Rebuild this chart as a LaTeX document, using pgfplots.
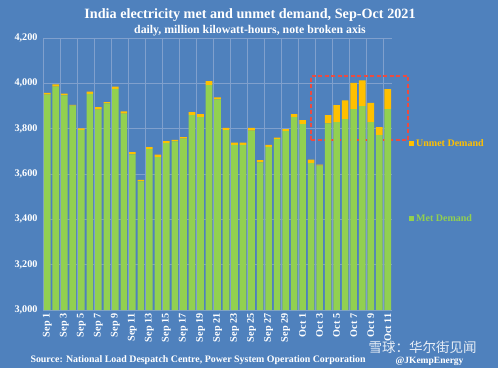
\documentclass[border=0pt]{standalone}
\usepackage{fontspec}
\setmainfont{Liberation Serif}
\newfontfamily\cjk{Noto Sans CJK SC}
\usepackage{pgfplots}
\usepackage{pgfplotstable}
\pgfplotsset{compat=1.18}
\definecolor{bg}{RGB}{79,129,189}
\definecolor{met}{RGB}{146,208,80}
\definecolor{unmet}{RGB}{255,192,0}
\definecolor{gridc}{RGB}{128,160,205}
\definecolor{boxred}{RGB}{235,75,65}

\pgfplotstableread{
x met unmet
0 3950 8
1 3985 10
2 3947 8
3 3902 3
4 3795 6
5 3953 10
6 3884 11
7 3912 5
8 3976 9
9 3866 10
10 3687 10
11 3568 6
12 3710 9
13 3674 11
14 3736 9
15 3744 7
16 3756 7
17 3860 13
18 3851 13
19 3992 18
20 3929 9
21 3794 9
22 3729 9
23 3729 9
24 3791 12
25 3651 10
26 3720 8
27 3754 6
28 3789 9
29 3851 13
30 3820 18
31 3648 15
32 3637 4
33 3823 37
34 3829 75
35 3842 83
36 3886 116
37 3900 113
38 3829 85
39 3771 36
40 3886 88
}\datatable

\begin{document}
\begin{tikzpicture}
\fill[bg] (0pt,0pt) rectangle (498pt,368pt);
\path[use as bounding box] (0pt,0pt) rectangle (498pt,368pt);
\node[white, anchor=base, font=\bfseries\fontsize{14.2}{16}\selectfont] at (250pt,349pt) {India electricity met and unmet demand, Sep-Oct 2021};
\node[white, anchor=base, font=\bfseries\fontsize{11.8}{13}\selectfont] at (250pt,335pt) {daily, million kilowatt-hours, note broken axis};
\begin{axis}[
  at={(43pt,58pt)}, anchor=south west,
  width=349pt, height=272pt, scale only axis,
  xmin=-0.5, xmax=40.5, ymin=3000, ymax=4200,
  ybar stacked, bar width=6.6pt,
  xtick={0,2,...,40},
  xticklabels={Sep 1,Sep 3,Sep 5,Sep 7,Sep 9,Sep 11,Sep 13,Sep 15,Sep 17,Sep 19,Sep 21,Sep 23,Sep 25,Sep 27,Sep 29,Oct 1,Oct 3,Oct 5,Oct 7,Oct 9,Oct 11},
  minor xtick={-0.5,1.5,...,39.5},
  xminorgrids, minor grid style={gridc, line width=0.6pt},
  ytick={3000,3200,...,4200}, ymajorgrids,
  major grid style={gridc, line width=0.6pt},
  axis line style={draw=none},
  major tick length=0pt, minor tick length=0pt,
  tick label style={white, font=\bfseries\fontsize{10.2}{11}\selectfont},
  x tick label style={rotate=90, anchor=east},
  y tick label style={xshift=-2pt},
  /pgf/number format/assume math mode=true,
  /pgf/number format/1000 sep={,},
  scaled y ticks=false,
  clip=false,
  reverse legend,
  legend style={at={(1.0487,0.636)}, anchor=north west, draw=none, fill=none,
    inner sep=0pt, row sep=63pt, font=\bfseries\fontsize{10}{11}\selectfont},
  legend cell align=left,
  legend image code/.code={\fill[#1] (0pt,-2.5pt) rectangle (5pt,2.5pt);},
]
\addplot[fill=met, draw=none] table[x=x,y=met]{\datatable};
\addlegendentry{\textcolor{met}{Met Demand}}
\addplot[fill=unmet, draw=none] table[x=x,y=unmet]{\datatable};
\addlegendentry{\textcolor{unmet}{Unmet Demand}}
\draw[boxred, line width=1.8pt, dash pattern=on 4pt off 2.5pt] (axis cs:31,3750) rectangle (axis cs:42.4,4033);
\end{axis}
\node[white, anchor=base west, font=\bfseries\fontsize{9.9}{11}\selectfont] at (27pt,6pt) {Source: National Load Despatch Centre, Power System Operation Corporation};
\node[white, anchor=base west, font=\bfseries\fontsize{9.5}{10}\selectfont] at (392pt,5pt) {@JKempEnergy};
\node[white, opacity=0.85, anchor=base west, font=\cjk\fontsize{13.5}{15}\selectfont] at (365pt,16pt) {雪球：华尔街见闻};
\end{tikzpicture}
\end{document}
